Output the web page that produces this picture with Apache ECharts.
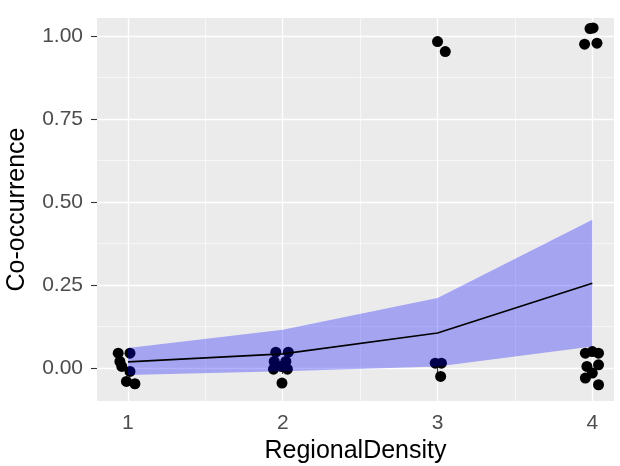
<!DOCTYPE html>
<html>
<head>
<meta charset="utf-8">
<script src="https://cdn.jsdelivr.net/npm/echarts@6/dist/echarts.min.js"></script>
<style>
  html, body { margin: 0; padding: 0; background: #fff; }
  #chart { width: 620px; height: 466px; }
</style>
</head>
<body>
<div id="chart"></div>
<script>
// fitted curve + confidence band at each density level
var densityLevels = [1, 2, 3, 4];
var fitLine = [0.018, 0.042, 0.105, 0.255];
var ciLower = [-0.022, -0.010, 0.004, 0.064];
var ciUpper = [0.060, 0.115, 0.210, 0.446];

var pointX = [0.937, 1.013, 0.948, 0.960, 1.013, 0.990, 1.045,
              1.955, 2.036, 1.945, 2.020, 1.940, 2.030, 1.990, 1.995,
              3.000, 3.050, 2.985, 3.025, 3.020,
              3.985, 4.005, 3.950, 4.030, 3.955, 4.040, 4.000, 3.965, 4.040, 3.955, 4.040, 4.000];
var pointY = [0.044, 0.044, 0.019, 0.004, -0.011, -0.041, -0.048,
              0.047, 0.047, 0.019, 0.019, -0.004, -0.004, 0.004, -0.046,
              0.983, 0.953, 0.014, 0.014, -0.026,
              1.022, 1.024, 0.975, 0.978, 0.044, 0.044, 0.049, 0.004, 0.009, -0.031, -0.051, -0.016];

var xTicks = [1, 2, 3, 4];
var xMinor = [1.5, 2.5, 3.5];
var yTicks = [0, 0.25, 0.5, 0.75, 1];
var yMinor = [0.125, 0.375, 0.625, 0.875];

var X_MIN = 0.8, X_MAX = 4.14, Y_MIN = -0.1, Y_MAX = 1.054;

var points = pointX.map(function (x, i) { return [x, pointY[i]]; });
var line = densityLevels.map(function (x, i) { return [x, fitLine[i]]; });

function majorAxis(ticks, extra) {
    var a = {
        type: 'value',
        min: extra.min, max: extra.max,
        axisLine: { show: false },
        axisTick: { show: true, customValues: ticks, length: 6, lineStyle: { color: '#333', width: 1.1 } },
        axisLabel: { customValues: ticks, color: '#4d4d4d', fontSize: 21, fontFamily: 'Liberation Sans', margin: extra.margin,
                     formatter: extra.fmt },
        splitLine: { show: true, lineStyle: { color: '#fff', width: 1.3 } },
        name: extra.name, nameLocation: 'middle', nameGap: extra.gap,
        nameTextStyle: { color: '#000', fontSize: 25, fontFamily: 'Liberation Sans' }
    };
    return a;
}
function minorAxis(ticks, min, max) {
    return {
        type: 'value', min: min, max: max,
        axisLine: { show: false },
        axisTick: { show: false, customValues: ticks },
        axisLabel: { show: false, customValues: ticks },
        splitLine: { show: true, lineStyle: { color: '#fff', width: 0.6 } }
    };
}

var chart = echarts.init(document.getElementById('chart'));
chart.setOption({
    animation: false,
    grid: { left: 97, top: 18, right: 6, bottom: 65, show: true, backgroundColor: '#ebebeb', borderWidth: 0,
            outerBoundsMode: 'none', containLabel: false },
    xAxis: [
        majorAxis(xTicks, { min: X_MIN, max: X_MAX, margin: 12, name: 'RegionalDensity', gap: 37,
                            fmt: function (v) { return String(v); } }),
        minorAxis(xMinor, X_MIN, X_MAX)
    ],
    yAxis: [
        majorAxis(yTicks, { min: Y_MIN, max: Y_MAX, margin: 14, name: 'Co-occurrence', gap: 67,
                            fmt: function (v) { return v.toFixed(2); } }),
        minorAxis(yMinor, Y_MIN, Y_MAX)
    ],
    series: [
        {
            type: 'scatter',
            data: points,
            symbolSize: 11,
            itemStyle: { color: '#000', opacity: 1 },
            z: 2
        },
        {
            // confidence ribbon, drawn over the points like ggplot does
            type: 'custom',
            data: [[densityLevels[0], fitLine[0]]],
            z: 3,
            renderItem: function (params, api) {
                var pts = [];
                for (var i = 0; i < densityLevels.length; i++) {
                    pts.push(api.coord([densityLevels[i], ciUpper[i]]));
                }
                for (var j = densityLevels.length - 1; j >= 0; j--) {
                    pts.push(api.coord([densityLevels[j], ciLower[j]]));
                }
                return { type: 'polygon', shape: { points: pts }, style: { fill: 'rgba(0,0,255,0.3)' } };
            }
        },
        {
            type: 'line',
            data: line,
            symbol: 'none',
            lineStyle: { color: '#000', width: 1.6 },
            z: 4
        }
    ]
});
</script>
</body>
</html>
